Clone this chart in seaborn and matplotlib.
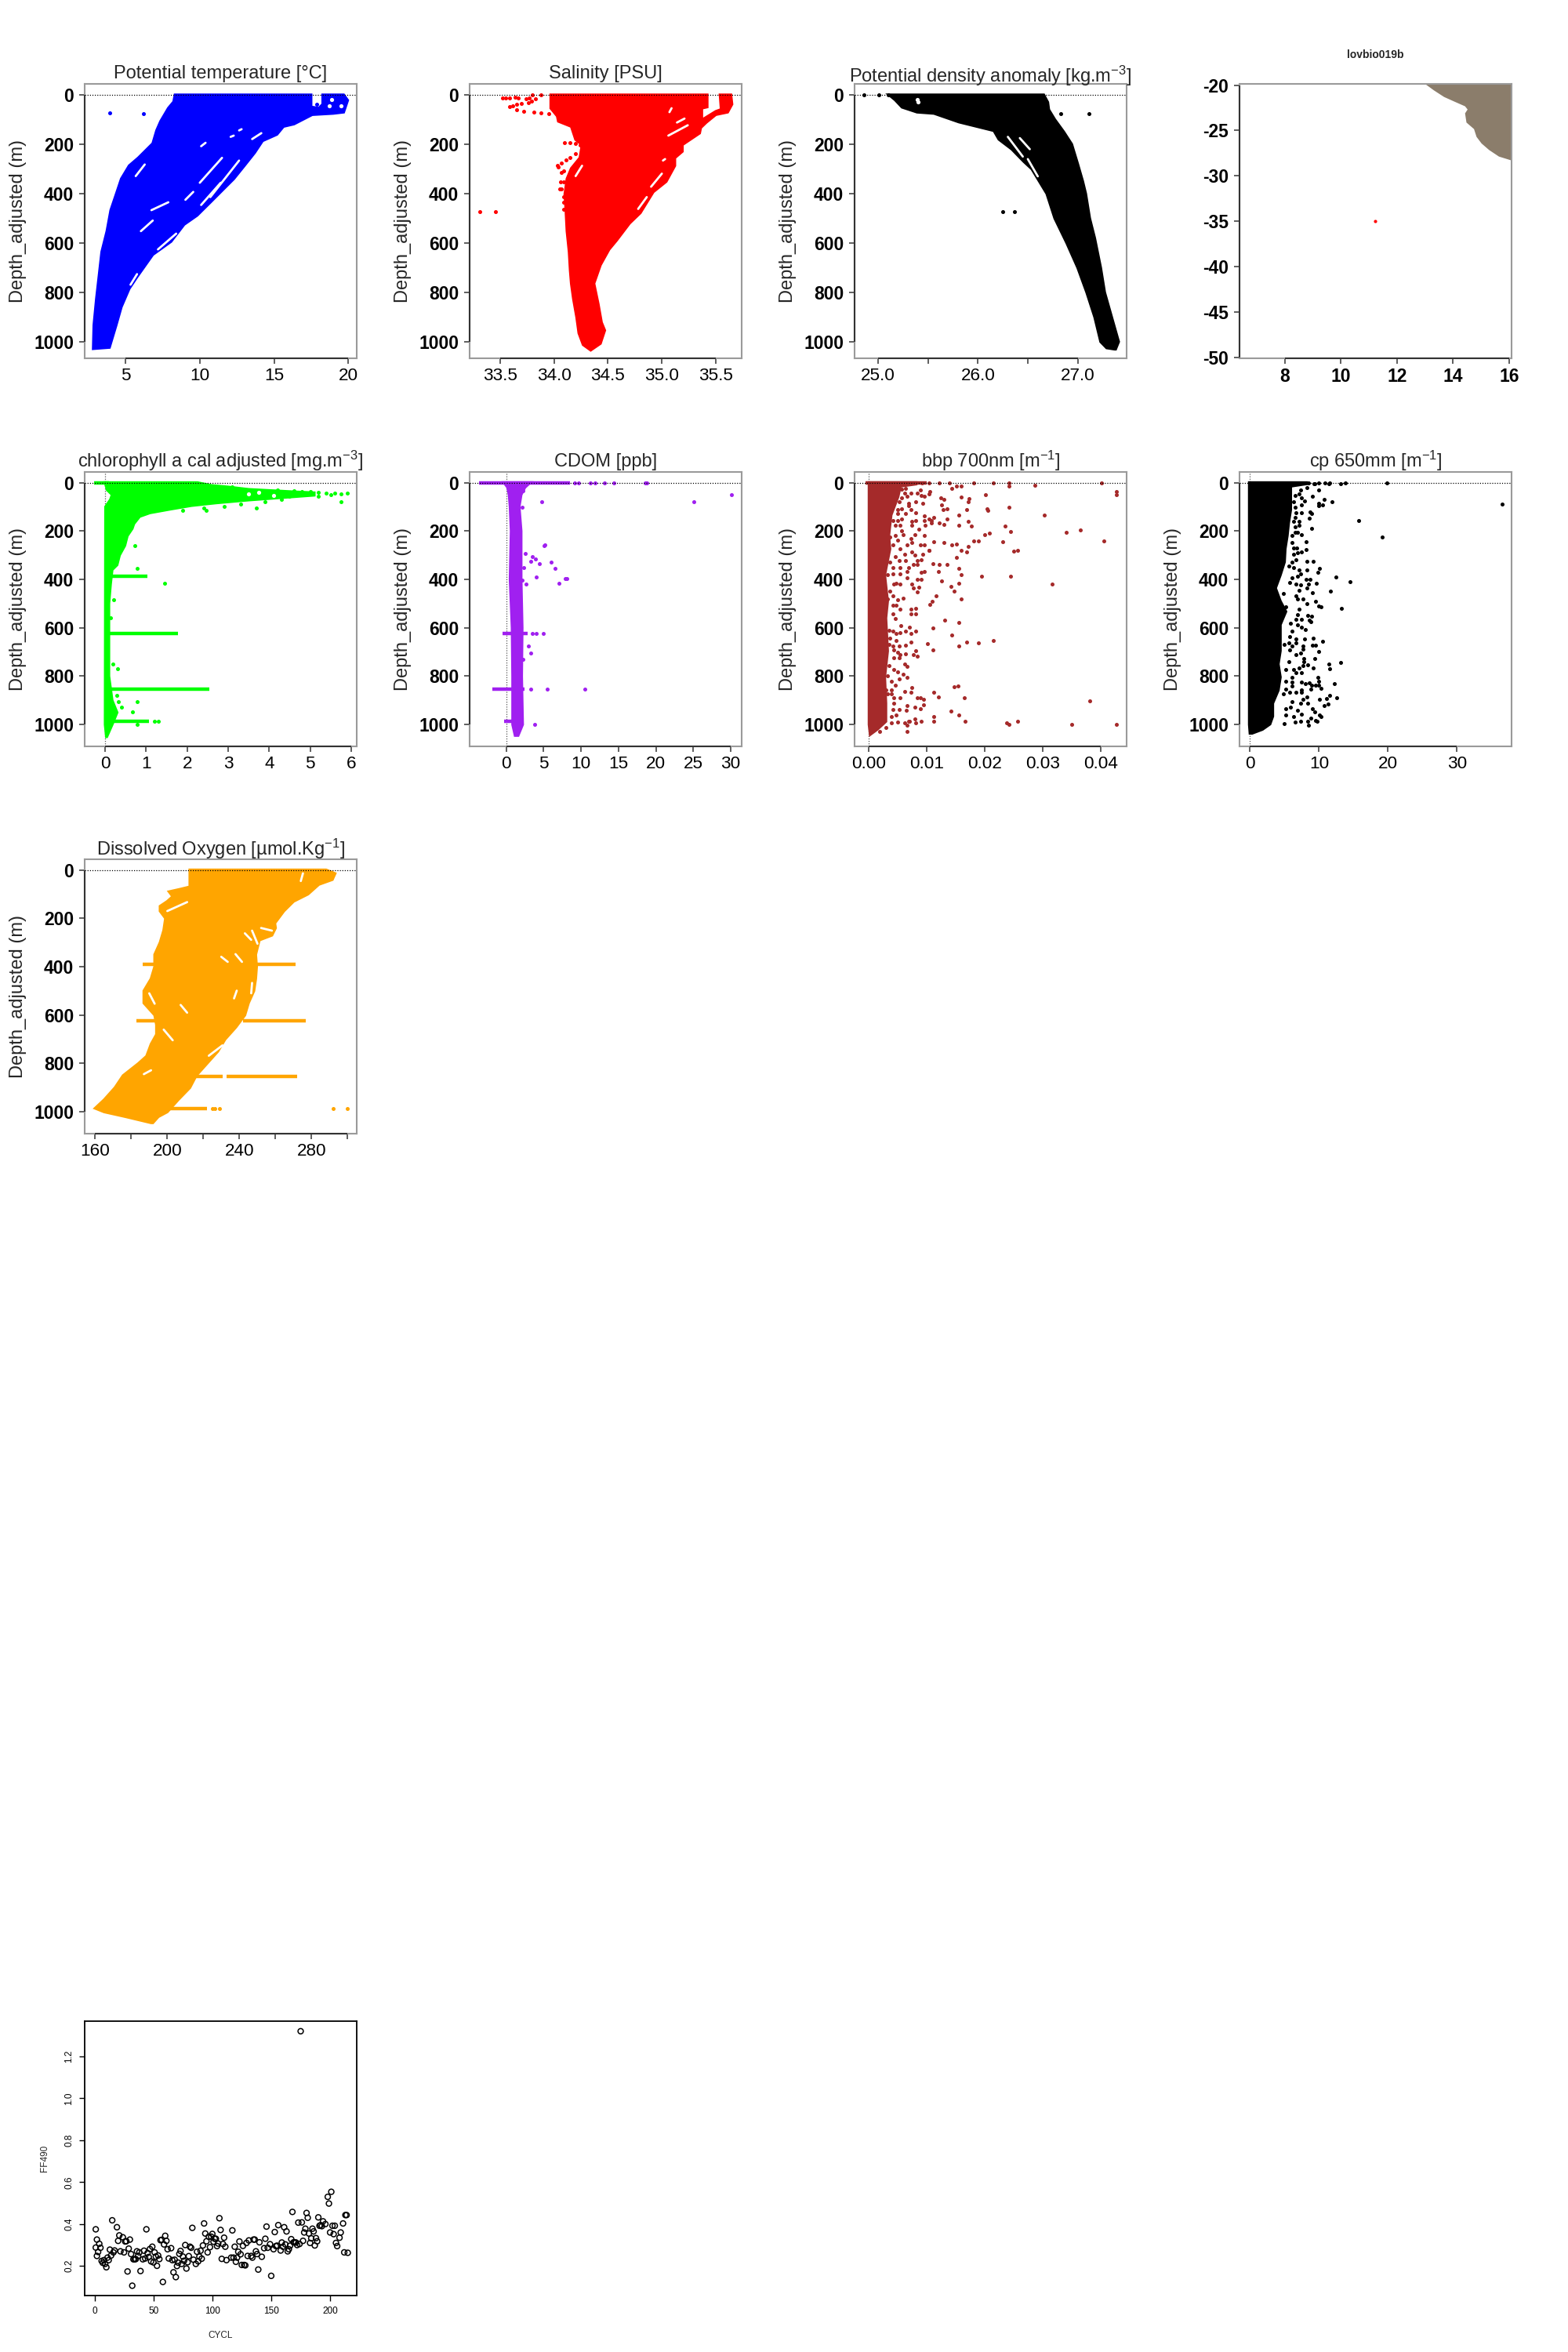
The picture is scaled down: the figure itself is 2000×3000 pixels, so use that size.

# ============================================
# lovbio019b float profiles, recreated chart
# ============================================

import numpy as np
import matplotlib
matplotlib.use("Agg")
import matplotlib.pyplot as plt
import seaborn as sns

sns.set_theme(style="white")
plt.rcParams["font.family"] = ["Liberation Sans", "DejaVu Sans"]
plt.rcParams["mathtext.fontset"] = "custom"
plt.rcParams["mathtext.rm"] = "Liberation Sans"
plt.rcParams["mathtext.default"] = "regular"
plt.rcParams["axes.unicode_minus"] = False

FIG_W, FIG_H = 2000, 3000
GREY = "#9a9a9a"
DARK = "#333333"

# ============================================
# Data
# ============================================

# Potential temperature
temp_left = [8.32, 8.23, 7.87, 7.35, 7.08, 6.82, 5.85, 5.23, 4.7, 4.35, 3.99, 3.73, 3.38, 3.2, 3.02, 2.85, 2.81]
temp_left_depth = [0, 28, 54, 107, 144, 197, 255, 287, 340, 403, 467, 552, 636, 732, 827, 933, 1028]
temp_right = [17.49, 17.49, 18.02, 18.28, 18.28, 19.69, 19.96, 19.69, 18.99, 17.57, 16.34, 15.63, 15.19, 14.22, 13.69,
              12.99, 12.28, 11.58, 10.7, 9.81, 8.93, 8.05, 6.82, 5.76, 5.23, 4.7, 4.35, 3.9]
temp_right_depth = [0, 49, 54, 38, 0, 0, 22, 70, 75, 80, 118, 128, 160, 186, 234,
                    287, 340, 382, 435, 488, 525, 594, 647, 737, 785, 859, 933, 1023]
temp_pts = [3.92, 6.18, 17.9]
temp_pts_depth = [73, 75, 39]
temp_holes = [18.7, 19.5, 18.9]
temp_holes_depth = [43, 43, 20]
temp_sl_x0 = [5.67, 9.99, 13.52, 10.08, 12.07, 12.64, 10.08, 10.7, 5.32, 6.02, 7.17, 9.02, 6.73]
temp_sl_x1 = [6.28, 11.49, 14.14, 10.38, 12.28, 12.81, 11.4, 12.64, 5.76, 6.82, 8.4, 9.55, 7.87]
temp_sl_d0 = [329, 356, 179, 208, 170, 144, 446, 414, 769, 552, 626, 425, 467]
temp_sl_d1 = [282, 255, 155, 194, 165, 139, 356, 266, 726, 509, 562, 393, 435]

# Salinity
sal_left = [33.97, 33.97, 34.03, 34.04, 34.16, 34.2, 34.26, 34.24, 34.16, 34.12, 34.1, 34.11, 34.12, 34.14, 34.15,
            34.16, 34.18, 34.21, 34.23, 34.27, 34.34]
sal_left_depth = [0, 54, 86, 107, 128, 181, 202, 255, 298, 340, 403, 467, 552, 636, 711,
                  764, 827, 901, 965, 1012, 1034]
sal_right = [35.34, 35.42, 35.42, 35.37, 35.37, 35.5, 35.55, 35.54, 35.64, 35.65, 35.61, 35.5, 35.41, 35.36, 35.35,
             35.19, 35.19, 35.12, 35.12, 35.04, 34.92, 34.8, 34.7, 34.58, 34.51, 34.43, 34.37, 34.41, 34.44, 34.47,
             34.43, 34.34]
sal_right_depth = [0, 0, 49, 54, 102, 67, 59, 0, 0, 38, 70, 80, 112, 133, 155,
                   202, 229, 255, 287, 351, 393, 478, 520, 589, 626, 689, 764, 848, 922, 954,
                   1007, 1034]
sal_pts = [33.52, 33.55, 33.59, 33.64, 33.67, 33.74, 33.77, 33.83, 33.76, 33.65, 33.59, 33.65, 33.72, 33.81, 33.88,
           33.95, 34.03, 33.62, 33.7, 33.79, 33.8, 33.88,
           34.1, 34.15, 34.2, 34.24, 34.26, 34.2, 34.15, 34.11, 34.07, 34.03, 34.04, 34.07, 34.09, 34.06, 34.09,
           34.05, 34.07, 34.09, 34.09, 34.09, 33.31, 33.46]
sal_pts_depth = [14, 14, 12, 10, 12, 17, 12, 17, 33, 38, 49, 59, 67, 70, 73,
                 75, 80, 43, 36, 25, 0, 0,
                 194, 194, 197, 202, 229, 239, 255, 264, 276, 287, 292, 313, 308, 354, 354,
                 382, 382, 414, 435, 465, 474, 474]
sal_sl_x0 = [35.06, 35.14, 34.78, 34.9, 35.01, 35.09, 34.26]
sal_sl_x1 = [35.24, 35.21, 34.86, 35.0, 35.03, 35.07, 34.2]
sal_sl_d0 = [165, 112, 462, 372, 266, 54, 287]
sal_sl_d1 = [123, 96, 414, 319, 260, 70, 329]

# Potential density anomaly
dens_left = [25.11, 25.17, 25.24, 25.39, 25.56, 25.81, 26.01, 26.16, 26.21, 26.34, 26.46, 26.54, 26.69,
             26.77, 26.89, 27.0, 27.09, 27.17, 27.23, 27.29, 27.37]
dens_left_depth = [0, 20, 50, 70, 75, 110, 130, 145, 180, 220, 270, 300, 400,
                   500, 600, 700, 800, 900, 1000, 1025, 1030]
dens_right = [26.66, 26.7, 26.71, 26.77, 26.86, 26.94, 27.0, 27.05, 27.08, 27.12, 27.17, 27.23, 27.27, 27.34, 27.41, 27.38]
dens_right_depth = [0, 30, 60, 100, 150, 200, 280, 350, 400, 500, 580, 700, 800, 900, 1000, 1030]
dens_pts = [24.86, 25.01, 25.1, 26.83, 27.11, 26.25, 26.37]
dens_pts_depth = [0, 0, 0, 75, 75, 474, 474]
dens_holes = [25.39, 25.4]
dens_holes_depth = [18, 28]
dens_sl_x0 = [26.3, 26.42, 26.5]
dens_sl_x1 = [26.45, 26.52, 26.6]
dens_sl_d0 = [170, 175, 260]
dens_sl_d1 = [250, 220, 330]

# Map panel
land_lon = [13.0, 13.32, 13.68, 14.04, 14.43, 14.52, 14.43, 14.48, 14.75, 14.84, 15.02, 15.29, 15.64, 16.09, 16.09]
land_lat = [-19.86, -20.58, -21.3, -21.8, -22.33, -22.68, -23.11, -24.12, -24.84, -25.7, -26.43, -27.15, -27.87, -28.3, -19.86]
float_lon = [11.23]
float_lat = [-35.0]

# Chlorophyll
chl_left = [0.0, 0.05, 0.17, 0.13, 0.01, 0.0, 0.03]
chl_left_depth = [0, 30, 50, 70, 100, 1000, 1050]
chl_right = [2.25, 2.6, 3.0, 3.5, 4.6, 5.1, 5.1, 4.3, 3.5, 2.7, 2.1, 1.58, 1.09, 0.84, 0.7, 0.66,
             0.54, 0.48, 0.35, 0.29, 0.17, 0.13, 0.09, 0.09, 0.17, 0.29, 0.17, 0.04]
chl_right_depth = [0, 12, 18, 28, 38, 42, 52, 62, 72, 84, 95, 110, 125, 140, 170, 190,
                   220, 260, 300, 340, 360, 420, 500, 800, 900, 950, 1000, 1050]
chl_strand_depth = [388, 623, 854, 987, 0]
chl_strand_from = [0.05, 0.05, 0.05, 0.05, -0.27]
chl_strand_to = [1.03, 1.78, 2.55, 1.06, 0.1]
chl_pts = [0.78, 1.45, 0.21, 0.13, 0.18, 0.31, 0.78, 0.66, 0.39, 0.72, 0.78, 2.47, 3.69, 5.76, 1.2, 1.3, 0.28, 0.33,
           5.0, 5.2, 5.4, 5.6, 5.9, 5.75, 5.5, 5.2, 4.9, 4.8, 4.6, 4.5, 4.3, 4.2, 3.3, 2.9, 2.4, 1.9, 3.9, 3.1]
chl_pts_depth = [353, 415, 485, 558, 750, 768, 906, 946, 928, 260, 998, 114, 105, 80, 987, 987, 880, 905,
                 38, 40, 45, 45, 42, 48, 50, 55, 47, 37, 35, 58, 68, 30, 90, 100, 105, 115, 78, 18]
chl_holes = [3.5, 3.75, 4.1]
chl_holes_depth = [47, 40, 52]

# CDOM
cdom_left = [-0.27, 0.2, 0.4, 0.53, 0.67, 0.53, 0.8, 0.87, 0.87, 1.2]
cdom_left_depth = [0, 20, 50, 100, 200, 400, 600, 800, 1000, 1045]
cdom_right = [3.2, 2.5, 2.0, 1.74, 2.0, 2.0, 2.14, 2.07, 2.2, 1.6]
cdom_right_depth = [0, 20, 50, 100, 200, 400, 600, 800, 1000, 1045]
cdom_strand_depth = [0, 623, 854, 987]
cdom_strand_from = [-3.6, -0.47, -1.8, -0.27]
cdom_strand_to = [8.55, 2.87, 2.5, 2.2]
cdom_pts = [9.2, 9.7, 11.2, 11.9, 13.1, 14.4, 18.6, 18.8, 3.5, 4.0, 5.0, 3.3, 5.5, 10.55,
            30.1, 25.05, 4.8, 2.14, 2.2, 5.2, 5.1, 2.54, 3.47, 3.87, 3.34, 4.41, 6.0, 6.55, 2.4,
            4.0, 7.9, 8.15, 7.08, 2.14, 2.67, 3.0, 3.34, 2.2, 3.8]
cdom_pts_depth = [0, 0, 0, 0, 0, 0, 0, 0, 623, 623, 623, 854, 854, 854,
                  51, 80, 80, 101, 33, 258, 261, 293, 307, 315, 325, 335, 328, 354, 350,
                  391, 396, 396, 415, 404, 420, 676, 704, 731, 998]

# bbp 700 (x in thousandths of m-1, rescaled when drawn)
bbp_left = [0.0, 0.0, 0.2]
bbp_left_depth = [0, 1000, 1041]
bbp_right = [8.1, 8.1, 5.4, 5.0, 3.8, 3.4, 3.6, 2.7, 3.2, 2.9, 3.2, 2.7, 2.9, 2.9, 1.4, 0.2]
bbp_right_depth = [0, 6, 15, 58, 134, 220, 274, 382, 490, 560, 696, 804, 912, 987, 1020, 1041]
bbp_strand_depth = [0]
bbp_strand_from = [-0.6]
bbp_strand_to = [10.0]
bbp_far = [9.1, 10.3, 12.1, 13.8, 18.1, 21.4, 24.1, 28.6, 40.1, 24.1, 42.7, 42.7, 20.1, 15.9, 15.1, 14.2,
           10.5, 12.3, 12.9, 12.5, 17.2, 15.9, 17.1, 13.4, 12.8, 16.8, 15.5,
           20.3, 20.5, 24.1, 30.2, 11.2, 10.8, 12.1, 13.4, 12.9,
           15.5, 17.7, 17.1, 23.4, 24.4, 34.0, 36.4, 40.5, 20.0, 20.7, 23.1, 18.8, 18.1, 17.1, 16.8,
           15.9, 15.1, 14.2, 12.9, 11.2, 10.3, 24.9, 25.6, 15.1, 13.4, 12.1, 11.0,
           11.9, 15.5, 15.9, 19.4, 24.4, 31.6, 15.5, 14.1, 12.5, 14.7, 11.5,
           15.9, 10.9, 10.5, 13.1, 15.5, 11.0, 14.2, 21.4, 18.8,
           16.8, 15.5, 10.1, 11.0, 14.7, 15.3, 11.2,
           11.9, 38.1, 16.4, 14.1, 15.5, 11.2, 11.2, 16.6,
           23.7, 24.1, 25.6, 34.9, 42.7]
bbp_far_depth = [0, 0, 0, 0, 0, 0, 0, 10, 0, 15, 37, 50, 50, 13, 15, 23,
                 37, 64, 71, 91, 67, 60, 80, 107, 112, 112, 134,
                 107, 114, 102, 134, 145, 156, 166, 150, 172,
                 177, 179, 161, 180, 201, 204, 197, 241, 216, 210, 245, 242, 240, 263, 287,
                 280, 253, 258, 247, 244, 280, 282, 280, 310, 339, 339, 334,
                 366, 353, 379, 388, 388, 420, 415, 429, 407, 450, 467,
                 482, 492, 503, 569, 577, 602, 631, 654, 663,
                 659, 676, 666, 693, 845, 842, 866,
                 887, 901, 890, 944, 960, 966, 987, 987,
                 993, 998, 987, 1000, 1000]
bbp_near = [5.6, 6.3, 6.1, 8.8, 8.3, 9, 9.5, 10.4, 7.2, 6.5, 5.6, 5.2, 6.8, 8.1, 9.2, 5, 5.6, 6.8, 7.2, 8.1, 6.3, 5,
            4.1, 5, 5.6, 7.4, 8.1, 9.5, 9.5, 4.5, 5.4, 7.4, 8.6, 9.7, 10.4, 10.8, 5.6, 5.9, 7.9, 9.5, 3.6, 4.5, 5,
            7.2, 7.4, 6.5, 4.1, 3.2, 5.4, 6.1, 7.4, 7.9, 8.8, 9.5, 10.4, 9.2, 4.5, 3.6, 5.2, 6.3, 8.3, 9, 4.1, 5.4,
            6.8, 7.7, 8.3, 4.1, 3.2, 5.4, 6.5, 6.5, 9, 9.5, 8.3, 9, 4.3, 4.7, 5.4, 7.4, 8.6, 7.7, 8.3, 3.6, 4.1, 3.2,
            5, 5.9, 4.1, 4.7, 5.4, 7.2, 8.1,
            3.4, 4.1, 4.7, 5.4, 6.3, 7.2, 8.1, 3.6, 4.7, 3.4, 4.1, 4.3, 5.2, 6.3, 7.2, 5, 5.4, 4.3, 5.2, 6.3, 7.7, 8.3,
            8.1, 3.4, 6.1, 6.5, 4.3, 5, 5.9, 6.5, 3.2, 3.8, 5.2, 4.5, 3.8, 2.9, 3.2, 3.8, 4.3, 5.4, 6.1, 7.2, 7.4, 4.3,
            6.5, 7.9, 4.1, 5.2, 6.4, 8.8, 3.8, 4.7, 3.8, 5, 6.1, 6.8, 7, 7.9, 8.1, 9, 6.5, 1.8, 2.9, 6.5, 8.3, 8.8, 9.4,
            9.4, 4.5, 4.1, 7.2, 8, 5.5, 6.9]
bbp_near_depth = [26, 24, 42, 31, 42, 53, 58, 48, 42, 58, 64, 80, 85, 80, 85, 112, 107, 96, 112, 123, 129, 129,
                  156, 156, 150, 161, 156, 139, 156, 177, 177, 177, 193, 177, 150, 166, 199, 215, 215, 220, 226, 220, 237,
                  231, 247, 258, 258, 237, 274, 296, 285, 301, 258, 258, 280, 296, 307, 328, 323, 323, 323, 318, 350, 350,
                  350, 339, 339, 377, 382, 377, 366, 393, 372, 366, 399, 399, 420, 415, 420, 420, 431, 436, 453, 447, 469, 480,
                  485, 477, 507, 507, 523, 523, 519,
                  609, 615, 625, 620, 615, 625, 615, 642, 652, 669, 674, 690, 674, 672, 658, 701, 712, 723, 723, 709, 712, 717,
                  696, 755, 750, 760, 771, 782, 793, 804, 798, 820, 812, 836, 858, 858, 874, 874, 890, 888, 863, 868, 847, 912,
                  922, 928, 939, 939, 942, 935, 966, 960, 993, 989, 993, 987, 987, 976, 993, 987, 1003, 1030, 1011, 1027, 888, 890, 895,
                  917, 561, 544, 542, 544, 590, 598]

# cp 650
cp_left = [-0.1, -0.1, 0.0]
cp_left_depth = [0, 1000, 1036]
cp_right = [8.2, 8.2, 5.9, 5.9, 5.6, 5.4, 5.1, 5.0, 4.4, 3.7, 4.4, 5.2, 4.4, 4.4, 4.4, 4.1, 4.4, 4.1, 3.3, 3.3, 2.9, 1.8, 0.3]
cp_right_depth = [0, 5, 15, 112, 166, 220, 274, 328, 382, 436, 490, 533, 587, 641, 695, 750, 804, 858, 912, 966, 998, 1020, 1036]
cp_upper = [8.5, 9.3, 9.4, 9.9, 10.9, 11.4, 11.6, 13.1, 13.8, 19.8, 8.2, 10, 7.3, 7.1, 7.5, 6.5, 9.1, 10.8, 7.9, 11.9, 9.9, 9.9,
            10.5, 6.3, 7.5, 6.5, 6.7, 7.5, 8.7, 8.9, 8.6, 6.5, 7.1, 15.7, 6.3, 6.5, 7.1, 8.9, 6.5, 6.9, 7.5, 6.1, 19.1, 8.1, 6.1,
            6.3, 6.8, 8.1, 6.3, 6.9, 7.5, 6.7, 6.1, 8.2, 9.2, 5.6, 6.3, 7.1, 7.3, 8.2, 10.1, 9.8, 6.9, 6.1, 8.1, 8.7, 12.5, 14.5,
            5.8, 6.7, 7.3, 9.6, 8.5, 8.3, 7.1, 11.7, 9.1, 4.8, 6.7, 6.9, 7.7, 9.5, 8.2, 9.9, 10.3, 7.1, 13.3, 5.2, 36.5]
cp_upper_depth = [0, 4, 4, 2, 2, 4, 0, 6, 2, 2, 21, 31, 31, 48, 64, 53, 58, 69, 75, 78, 85, 96,
                  91, 80, 91, 102, 123, 123, 121, 129, 148, 145, 161, 156, 161, 183, 177, 190, 204, 207, 215, 220, 224, 244, 247,
                  269, 271, 276, 296, 291, 287, 318, 328, 326, 326, 345, 350, 361, 377, 361, 355, 372, 388, 393, 399, 401, 390, 411,
                  413, 420, 422, 415, 420, 436, 445, 447, 456, 458, 469, 480, 480, 490, 499, 509, 512, 523, 521, 512, 89]
cp_lower = [8.4, 8.9, 8.6, 8.8, 6.9, 7.5, 6.7, 5.9, 6.9, 7.5, 8, 6.1, 5.8, 6.7, 7.9, 9.2, 10.5, 9.1, 9.5, 7.7, 7.7, 5.6, 6.1, 6.7,
            5, 5.8, 10, 7.3, 6.7, 7.8, 9.4, 5.6, 7.8, 7.7, 8.4, 7.1, 9.2, 11.4, 13.1, 11.6, 5.2, 6.3, 7.5, 6.7, 9.8, 9.9, 6.1, 5.2,
            6.1, 7.5, 8.6, 8, 8.9, 9.5, 9.9, 12.2, 10.3, 6.1, 5.2, 7.5, 8.8, 5.8, 6.7, 7.5, 4.8, 8.2, 7.7, 10.1, 11.1, 11.6, 12.6,
            6.1, 7.3, 8.4, 11.3, 10.8, 9, 5.2, 5.9, 6.9, 9.4, 10.1, 10.3, 5.2, 6.3, 7.5, 8.8, 9.5, 9.7, 7.3, 8.4, 8.5, 6.5, 5]
cp_lower_depth = [549, 553, 569, 575, 547, 566, 566, 582, 588, 598, 607, 615, 636, 647, 645, 642, 656, 672, 672, 674, 687, 663, 674, 663,
                  669, 690, 698, 706, 712, 728, 726, 739, 739, 755, 753, 766, 766, 750, 744, 768, 771, 771, 784, 787, 806, 820, 804, 820,
                  825, 825, 827, 831, 836, 836, 838, 831, 849, 841, 852, 858, 855, 868, 868, 868, 874, 885, 895, 895, 893, 881, 888,
                  906, 912, 912, 914, 922, 933, 933, 928, 942, 949, 960, 968, 960, 966, 958, 974, 982, 987, 987, 987, 1001, 989, 996]

# Dissolved oxygen
oxy_left = [212.5, 212.5, 207, 201, 203, 200, 196, 196, 199, 198, 196, 193, 193, 191, 187, 187, 193, 194, 194, 191,
            188.5, 184, 175.5, 171, 165, 160, 165, 177, 191]
oxy_left_depth = [0, 70, 80, 90, 110, 130, 150, 170, 200, 250, 300, 350, 400, 450, 500, 550, 600, 640, 680, 720,
                  770, 800, 850, 900, 950, 985, 1000, 1020, 1045]
oxy_right = [288, 293, 291.5, 284, 278, 270, 264.6, 259.6, 260, 258, 251, 250, 249, 249.5, 249, 248, 245, 243, 238,
             232, 228, 222, 216, 212.5, 206, 200, 195, 192]
oxy_right_depth = [0, 15, 40, 60, 100, 130, 170, 220, 240, 270, 290, 320, 350, 400, 450, 500, 550, 600, 650,
                   700, 750, 800, 850, 900, 950, 1000, 1020, 1045]
oxy_strand_depth = [389, 389, 623, 623, 854, 854, 985]
oxy_strand_from = [186.4, 249.4, 182.8, 242, 216, 233, 200]
oxy_strand_to = [193, 271, 200, 276.7, 230.6, 272, 222]
oxy_pts = [225, 226.5, 229, 292, 299.7]
oxy_pts_depth = [985, 985, 985, 985, 987]
oxy_sl_x0 = [275.2, 200, 237.8, 229.9, 252, 243, 247, 198, 207.4, 237, 190, 246.5, 223, 187]
oxy_sl_x1 = [274, 211, 241.4, 233.5, 258, 246.5, 250, 203, 211, 238.5, 193, 247, 230.6, 191]
oxy_sl_d0 = [14, 170, 348, 359, 240, 262, 251, 660, 558, 531, 510, 510, 768, 844]
oxy_sl_d1 = [46, 133, 380, 380, 251, 289, 305, 704, 590, 499, 553, 467, 725, 828]

# FF490 against cycle
cycl = [1, 1, 2, 2, 3, 4, 5, 6, 7, 8, 9, 10, 11, 12, 13, 14, 15, 16, 17, 19, 20, 21, 22, 24, 25, 26, 27, 28, 29, 30,
        31, 32, 33, 34, 35, 36, 37, 38, 39, 41, 42, 43, 44, 45, 46, 47, 48, 49, 50, 51, 52, 53, 54, 55, 56, 57, 58,
        59, 60, 61, 62, 63, 65, 66, 67, 68, 69, 70, 71, 72, 73, 74, 75, 76, 77, 78, 79, 80, 81, 82, 83, 84, 86, 87,
        88, 89, 90, 91, 92, 93, 94, 95, 96, 97, 98, 99, 100, 101, 102, 103, 104, 105, 106, 107, 108, 109, 110, 111,
        112, 116, 118, 117, 119, 120, 121, 122, 123, 124, 125, 126, 127, 128, 129, 130, 131, 133, 134, 135, 136, 137,
        138, 139, 140, 142, 144, 145, 146, 147, 149, 150, 152, 153, 154, 155, 156, 158, 159, 160, 161, 162, 163, 164,
        165, 166, 167, 168, 169, 170, 171, 172, 173, 174, 175, 176, 177, 178, 179, 180, 181, 182, 183, 184, 185, 186,
        187, 188, 189, 190, 191, 192, 193, 194, 196, 198, 199, 200, 201, 202, 203, 204, 205, 206, 208, 209, 211, 212,
        213, 214, 215]
ff490 = [.375, .288, .326, .248, .267, .306, .287, .224, .215, .228, .21, .194, .24, .228, .278, .25, .418, .265, .274,
         .385, .32, .346, .27, .337, .265, .317, .318, .174, .283, .326, .257, .106, .232, .232, .233, .27, .248, .265,
         .176, .232, .273, .236, .375, .262, .243, .281, .222, .292, .217, .265, .245, .201, .25, .233, .323, .325, .124,
         .303, .344, .32, .28, .236, .285, .228, .17, .23, .147, .2, .216, .258, .272, .21, .245, .225, .3, .188, .218,
         .247, .292, .287, .382, .23, .21, .268, .222, .245, .273, .235, .298, .403, .355, .318, .265, .34, .29, .34,
         .353, .316, .33, .33, .295, .307, .428, .372, .234, .305, .335, .292, .228, .24, .24, .37, .292, .22, .24, .268,
         .317, .256, .205, .296, .205, .203, .31, .248, .322, .248, .24, .326, .326, .27, .257, .183, .313, .244, .285,
         .33, .388, .287, .304, .153, .28, .362, .295, .297, .395, .274, .312, .292, .385, .303, .365, .27, .28, .297,
         .328, .458, .313, .313, .312, .3, .407, .305, 1.32, .408, .32, .36, .378, .453, .43, .355, .31, .332, .378, .365,
         .298, .333, .318, .432, .392, .395, .39, .413, .4, .53, .498, .36, .554, .392, .352, .392, .31, .295, .335, .36,
         .403, .265, .443, .443, .263]


# ============================================
# Helpers
# ============================================

fig = plt.figure(figsize=(FIG_W / 100, FIG_H / 100), dpi=100, facecolor="white")


def make_axes(left, top, right, bottom):
    return fig.add_axes([left / FIG_W, 1 - bottom / FIG_H,
                         (right - left) / FIG_W, (bottom - top) / FIG_H])


def r_frame(ax, xticks, xlabels, yticks, ylabels, x_bold=False):
    # grey box, darker axis line between the first and last tick
    for side in ax.spines.values():
        side.set_color(GREY)
        side.set_linewidth(1.5)
    ax.set_xticks(xticks, labels=xlabels)
    ax.set_yticks(yticks, labels=ylabels)
    ax.tick_params(axis="x", length=5, width=1.1, color=DARK, pad=3.5, labelsize=16.2,
                   labelcolor="black", bottom=True)
    ax.tick_params(axis="y", length=5, width=1.1, color=DARK, pad=5, labelsize=16.5,
                   labelcolor="black", left=True)
    for lab in ax.get_yticklabels():
        lab.set_fontweight("bold")
    if x_bold:
        for lab in ax.get_xticklabels():
            lab.set_fontweight("bold")
            lab.set_fontsize(16.5)
    ax.plot([xticks[0], xticks[-1]], [0, 0], color=DARK, lw=1.5, clip_on=False,
            transform=ax.get_xaxis_transform(), zorder=6, solid_capstyle="butt")
    ax.plot([0, 0], [yticks[0], yticks[-1]], color=DARK, lw=1.5, clip_on=False,
            transform=ax.get_yaxis_transform(), zorder=6, solid_capstyle="butt")


def depth_panel(box, xlim, ylim, xticks, xlabels, title, color, left, left_d, right, right_d,
                pts=None, pts_d=None, holes=None, holes_d=None, slivers=None,
                strand_d=None, strand_from=None, strand_to=None, zero_x=False, pad=5.5):
    ax = make_axes(*box)

    # the dense cloud of profiles
    ax.fill(np.r_[left, right[::-1]], np.r_[left_d, right_d[::-1]], color=color, lw=2.5, zorder=2)

    if slivers is not None:
        # thin white gaps between groups of profiles
        for x0, x1, d0, d1 in zip(*slivers):
            ax.plot([x0, x1], [d0, d1], color="white", lw=2.0, zorder=3, solid_capstyle="round")
    if holes is not None:
        sns.scatterplot(x=holes, y=holes_d, ax=ax, color="white", s=14, linewidth=0, zorder=3)
    if strand_d is not None:
        ax.hlines(strand_d, strand_from, strand_to, color=color, lw=3.2, zorder=3)
    if pts is not None:
        sns.scatterplot(x=pts, y=pts_d, ax=ax, color=color, s=13, linewidth=0, zorder=4)

    ax.axhline(0, color="black", ls=(0, (1, 1.5)), lw=0.9, zorder=5)
    if zero_x:
        ax.axvline(0, color="#555555", ls=(0, (1, 1.5)), lw=0.9, zorder=1)

    ax.set_xlim(*xlim)
    ax.set_ylim(*ylim)
    r_frame(ax, xticks, xlabels, [0, 200, 400, 600, 800, 1000],
            ["0", "200", "400", "600", "800", "1000"])
    ax.set_title(title, fontsize=17, pad=pad)
    ax.set_xlabel("")
    ax.set_ylabel("Depth_adjusted (m)", fontsize=17)
    ax.yaxis.set_label_coords(-0.214, 0.5)
    return ax


# ============================================
# Row 1
# ============================================

ROW1 = (107, 457)
ROW1_Y = (1067, -44.5)
ROW2 = (602, 952)
ROW2_Y = (1090, -44)
ROW3 = (1096, 1446)

depth_panel((108, ROW1[0], 455, ROW1[1]), (2.23, 20.57), ROW1_Y, [5, 10, 15, 20], ["5", "10", "15", "20"],
            "Potential temperature [°C]", "#0000ff", temp_left, temp_left_depth, temp_right, temp_right_depth,
            temp_pts, temp_pts_depth, temp_holes, temp_holes_depth,
            slivers=(temp_sl_x0, temp_sl_x1, temp_sl_d0, temp_sl_d1), pad=5)

depth_panel((599, ROW1[0], 946, ROW1[1]), (33.217, 35.74), ROW1_Y, [33.5, 34, 34.5, 35, 35.5],
            ["33.5", "34.0", "34.5", "35.0", "35.5"],
            "Salinity [PSU]", "#ff0000", sal_left, sal_left_depth, sal_right, sal_right_depth,
            sal_pts, sal_pts_depth,
            slivers=(sal_sl_x0, sal_sl_x1, sal_sl_d0, sal_sl_d1), pad=5)

depth_panel((1090, ROW1[0], 1437, ROW1[1]), (24.764, 27.49), ROW1_Y, [25, 25.5, 26, 26.5, 27],
            ["25.0", "", "26.0", "", "27.0"],
            r"Potential density anomaly [kg.m$^{-3}$]", "#000000", dens_left, dens_left_depth, dens_right, dens_right_depth,
            dens_pts, dens_pts_depth, dens_holes, dens_holes_depth,
            slivers=(dens_sl_x0, dens_sl_x1, dens_sl_d0, dens_sl_d1), pad=1.5)

# map panel
ax_map = make_axes(1581, ROW1[0], 1928, ROW1[1])
ax_map.fill(land_lon, land_lat, color="#8B7D6B", lw=0)
sns.scatterplot(x=float_lon, y=float_lat, ax=ax_map, color="#ff0000", s=9, linewidth=0)
ax_map.set_xlim(6.375, 16.09)
ax_map.set_ylim(-50.1, -19.86)
r_frame(ax_map, [8, 10, 12, 14, 16], ["8", "10", "12", "14", "16"],
        [-20, -25, -30, -35, -40, -45, -50], ["-20", "-25", "-30", "-35", "-40", "-45", "-50"], x_bold=True)
ax_map.set_title("lovbio019b", fontsize=10, fontweight="bold", pad=24)

# ============================================
# Row 2
# ============================================

depth_panel((108, ROW2[0], 455, ROW2[1]), (-0.5, 6.137), ROW2_Y, [0, 1, 2, 3, 4, 5, 6],
            ["0", "1", "2", "3", "4", "5", "6"],
            r"chlorophyll a cal adjusted [mg.m$^{-3}$]", "#00ff00", chl_left, chl_left_depth, chl_right, chl_right_depth,
            chl_pts, chl_pts_depth, chl_holes, chl_holes_depth,
            strand_d=chl_strand_depth, strand_from=chl_strand_from, strand_to=chl_strand_to, zero_x=True, pad=4.5)

depth_panel((599, ROW2[0], 946, ROW2[1]), (-4.88, 31.47), ROW2_Y, [0, 5, 10, 15, 20, 25, 30],
            ["0", "5", "10", "15", "20", "25", "30"],
            "CDOM [ppb]", "#a020f0", cdom_left, cdom_left_depth, cdom_right, cdom_right_depth,
            cdom_pts, cdom_pts_depth, strand_d=cdom_strand_depth, strand_from=cdom_strand_from,
            strand_to=cdom_strand_to, zero_x=True, pad=5)

depth_panel((1090, ROW2[0], 1437, ROW2[1]), (-0.0025, 0.0444), ROW2_Y, [0, 0.01, 0.02, 0.03, 0.04],
            ["0.00", "0.01", "0.02", "0.03", "0.04"],
            r"bbp 700nm [m$^{-1}$]", "#a52a2a", np.array(bbp_left) / 1000, bbp_left_depth,
            np.array(bbp_right) / 1000, bbp_right_depth,
            np.r_[bbp_far, bbp_near] / 1000, np.r_[bbp_far_depth, bbp_near_depth],
            strand_d=bbp_strand_depth, strand_from=np.array(bbp_strand_from) / 1000,
            strand_to=np.array(bbp_strand_to) / 1000, zero_x=True, pad=4.5)

depth_panel((1581, ROW2[0], 1928, ROW2[1]), (-1.52, 37.9), ROW2_Y, [0, 10, 20, 30], ["0", "10", "20", "30"],
            r"cp 650mm [m$^{-1}$]", "#000000", cp_left, cp_left_depth, cp_right, cp_right_depth,
            np.r_[cp_upper, cp_lower], np.r_[cp_upper_depth, cp_lower_depth], zero_x=True, pad=4.5)

# ============================================
# Row 3
# ============================================

depth_panel((108, ROW3[0], 455, ROW3[1]), (154.2, 305), ROW2_Y, list(range(160, 301, 20)),
            ["160", "", "200", "", "240", "", "280", ""],
            r"Dissolved Oxygen [µmol.Kg$^{-1}$]", "#ffa500", oxy_left, oxy_left_depth, oxy_right, oxy_right_depth,
            oxy_pts, oxy_pts_depth, slivers=(oxy_sl_x0, oxy_sl_x1, oxy_sl_d0, oxy_sl_d1),
            strand_d=oxy_strand_depth, strand_from=oxy_strand_from, strand_to=oxy_strand_to, pad=4)

# ============================================
# Bottom scatter
# ============================================

ax_ff = make_axes(108, 2578, 455, 2928)
sns.scatterplot(x=cycl, y=ff490, ax=ax_ff, facecolors="none", edgecolor="black", s=24, linewidth=1.1, marker="o")
ax_ff.set_xlim(-8.4, 222.6)
ax_ff.set_ylim(0.059, 1.368)
for side in ax_ff.spines.values():
    side.set_color("black")
    side.set_linewidth(1.3)
ax_ff.set_xticks([0, 50, 100, 150, 200], labels=["0", "50", "100", "150", "200"])
ax_ff.set_yticks([0.2, 0.4, 0.6, 0.8, 1.0, 1.2], labels=["0.2", "0.4", "0.6", "0.8", "1.0", "1.2"])
ax_ff.tick_params(axis="both", length=5, width=1.0, color="black", labelsize=8.5, pad=5,
                  bottom=True, left=True, labelcolor="black")
for lab in ax_ff.get_yticklabels():
    lab.set_rotation(90)
    lab.set_va("center")
ax_ff.set_xlabel("CYCL", fontsize=8.5)
ax_ff.set_ylabel("FF490", fontsize=8.5)
ax_ff.xaxis.set_label_coords(0.5, -0.13)
ax_ff.yaxis.set_label_coords(-0.13, 0.5)

fig.savefig("out.png", dpi=100, facecolor="white")
